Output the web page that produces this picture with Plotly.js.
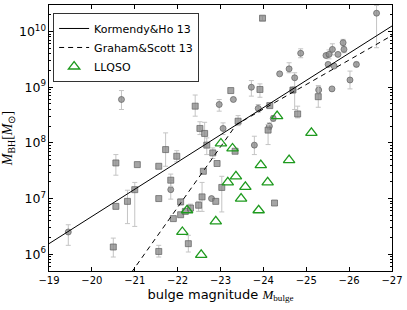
<!DOCTYPE html>
<html>
<head>
<meta charset="utf-8">
<script src="https://cdn.plot.ly/plotly-3.0.1.min.js"></script>
<style>html,body{margin:0;padding:0;background:#fff;}#chart{width:407px;height:310px;}</style>
</head>
<body>
<div id="chart"></div>
<script>
// Galaxies plotted as circles: bulge magnitude, log10(M_BH), error up/down (dex)
const circMag  = [-20.69,-19.45,-21.84,-22.79,-22.97,-23.30,-23.06,-23.88,-24.23,-24.14,-23.79,-23.72,-24.38,-24.60,-24.73,-24.87,-24.69,-25.29,-25.60,-26.02,-26.17,-25.46,-25.53,-25.61,-25.74,-25.86,-25.88,-25.51,-25.65,-26.64];
const circLogM = [ 8.78,  6.40,  7.16,  7.00,  8.69,  8.78,  8.26,  8.62,  8.44,  8.30,  7.96,  9.00,  9.24,  9.33,  9.17,  9.61,  8.95,  8.95,  8.97,  9.13,  9.41,  9.57,  9.59,  9.68,  9.59,  9.80,  9.68,  9.41,  9.38, 10.33];
const circErrUp= [ 0.16,  0.13,  0.17,  0,     0.09,  0,     0.10,  0.07,  0.05,  0.06,  0.16,  0.12,  0,     0.11,  0.09,  0.08,  0,     0.06,  0,     0.16,  0.04,  0,     0.08,  0.10,  0,     0.06,  0.06,  0,     0,     0.14];
const circErrDn= [ 0.18,  0.24,  0.17,  0,     0.12,  0,     0.11,  0.07,  0.05,  0.06,  0.17,  0.16,  0,     0.07,  0.57,  0.08,  0,     0.06,  0,     0.16,  0.04,  0,     0.08,  0.10,  0,     0.06,  0.06,  0,     0,     0.62];

// Galaxies plotted as squares
const sqMag  = [-23.98,-22.41,-22.52,-22.63,-22.68,-21.72,-21.98,-20.56,-21.06,-21.56,-21.84,-21.56,-21.00,-20.83,-20.56,-20.50,-21.56,-22.07,-21.90,-22.07,-22.18,-22.30,-22.25,-22.49,-22.57,-22.89,-23.03,-24.26,-22.82,-22.92,-22.60,-23.34,-23.41,-24.11,-24.15,-23.24,-23.92,-24.69,-24.80,-25.28];
const sqLogM = [10.24,  8.66,  8.26,  8.17,  7.96,  7.88,  7.76,  7.64,  7.61,  7.58,  7.33,  7.00,  7.16,  6.95,  6.86,  6.13,  6.05,  6.94,  6.64,  6.71,  6.77,  6.83,  6.19,  6.88,  7.03,  6.95,  7.20,  6.92,  7.82,  7.63,  7.49,  7.85,  8.39,  8.23,  8.67,  8.94,  8.96,  8.95,  8.52,  8.83];
const sqErrUp= [ 0.04,  0.20,  0.12,  0.20,  0.13,  0.30,  0.10,  0.15,  0,     0,     0.11,  0,     0.13,  0.20,  0,     0.16,  0.11,  0.05,  0,     0,     0,     0.07,  0.15,  0.07,  0.26,  0,     0.20,  0,     0.09,  0,     0,     0,     0.10,  0.10,  0,     0,     0.10,  0,     0.14,  0.20];
const sqErrDn= [ 0.04,  0.18,  0.11,  0.23,  0.17,  0.30,  0.10,  0.22,  0,     0,     0.11,  0,     0.66,  0.40,  0,     0.18,  0.10,  0.05,  0,     0,     0,     0.07,  0.15,  0.11,  0.26,  0,     0.44,  0,     0.10,  0,     0,     0,     0.08,  0.26,  0,     0,     0.14,  0,     0.07,  0.19];

// LLQSO sample
const qsoMag  = [-22.22,-22.11,-22.55,-23.01,-23.28,-23.94,-24.32,-23.36,-23.17,-23.58,-24.10,-23.48,-23.89,-22.89,-24.60,-25.12];
const qsoLogM = [ 6.79,  6.40,  5.99,  7.99,  7.90,  7.60,  8.48,  7.40,  7.29,  7.21,  7.29,  7.00,  6.79,  6.59,  7.69,  8.18];

// Scaling relations
const khMag  = [-19, -27];
const khLogM = [6.19, 10.10];
const gsMag  = [-20.8, -23.37, -27];
const gsLogM = [5.54, 8.33, 9.93];

const toLin = a => a.map(v => Math.pow(10, v));
const errUp = (L, e) => L.map((v, i) => e[i] > 0 ? Math.pow(10, v + e[i]) - Math.pow(10, v) : NaN);
const errDn = (L, e) => L.map((v, i) => e[i] > 0 ? Math.pow(10, v) - Math.pow(10, v - e[i]) : NaN);

const grayMarker = {color: 'rgba(135,135,135,0.75)', size: 6, line: {color: 'rgba(95,95,95,0.7)', width: 1}};
const errStyle = {color: '#c4c4c4', thickness: 1, width: 2.5};

const traces = [
  {x: circMag, y: toLin(circLogM), mode: 'markers', type: 'scatter', showlegend: false,
   marker: Object.assign({symbol: 'circle'}, grayMarker),
   error_y: Object.assign({type: 'data', symmetric: false, array: errUp(circLogM, circErrUp), arrayminus: errDn(circLogM, circErrDn)}, errStyle)},
  {x: sqMag, y: toLin(sqLogM), mode: 'markers', type: 'scatter', showlegend: false,
   marker: Object.assign({symbol: 'square'}, grayMarker),
   error_y: Object.assign({type: 'data', symmetric: false, array: errUp(sqLogM, sqErrUp), arrayminus: errDn(sqLogM, sqErrDn)}, errStyle)},
  {x: khMag, y: toLin(khLogM), mode: 'lines', type: 'scatter', name: 'Kormendy&amp;Ho 13',
   line: {color: 'black', width: 1}},
  {x: gsMag, y: toLin(gsLogM), mode: 'lines', type: 'scatter', name: 'Graham&amp;Scott 13',
   line: {color: 'black', width: 1, dash: '5px,4px'}},
  {x: qsoMag, y: toLin(qsoLogM), mode: 'markers', type: 'scatter', name: 'LLQSO',
   marker: {symbol: 'triangle-up-open', size: 10, color: '#1e9a1e', line: {width: 1.3, color: '#1e9a1e'}}}
];

const tickFont = {family: 'DejaVu Sans', size: 10, color: 'black'};
const layout = {
  width: 407, height: 310,
  margin: {l: 49, r: 15, t: 5, b: 39},
  paper_bgcolor: 'white', plot_bgcolor: 'white',
  font: {family: 'DejaVu Sans', color: 'black'},
  xaxis: {
    range: [-19, -27], tick0: -19, dtick: 1,
    ticks: 'inside', ticklen: 4, tickwidth: 1, tickcolor: 'black',
    showline: true, linecolor: 'black', linewidth: 1, mirror: 'ticks',
    showgrid: false, zeroline: false, tickfont: tickFont,
    title: {text: 'bulge magnitude <span style="font-family:Liberation Serif"><i>M</i><sub>bulge</sub></span>',
            font: {family: 'DejaVu Sans', size: 13, color: 'black'}, standoff: 4}
  },
  yaxis: {
    type: 'log', range: [Math.log10(5e5), Math.log10(3e10)], dtick: 1,
    exponentformat: 'power',
    ticks: 'inside', ticklen: 4, tickwidth: 1, tickcolor: 'black',
    minor: {ticks: 'inside', ticklen: 2, tickcolor: 'black', dtick: 'D1', showgrid: false},
    showline: true, linecolor: 'black', linewidth: 1, mirror: 'ticks',
    showgrid: false, zeroline: false, tickfont: tickFont,
    title: {text: '<span style="font-family:Liberation Serif"><i>M</i><sub>BH</sub>[<i>M</i><sub>⊙</sub>]</span>',
            font: {family: 'Liberation Serif', size: 14, color: 'black'}, standoff: 4}
  },
  legend: {
    x: 0.012, y: 0.97, xanchor: 'left', yanchor: 'top',
    bgcolor: 'white', bordercolor: '#333', borderwidth: 1,
    font: {family: 'DejaVu Sans', size: 11, color: 'black'}, tracegroupgap: 0
  },
  showlegend: true
};

Plotly.newPlot('chart', traces, layout, {staticPlot: true, displayModeBar: false});
</script>
</body>
</html>
